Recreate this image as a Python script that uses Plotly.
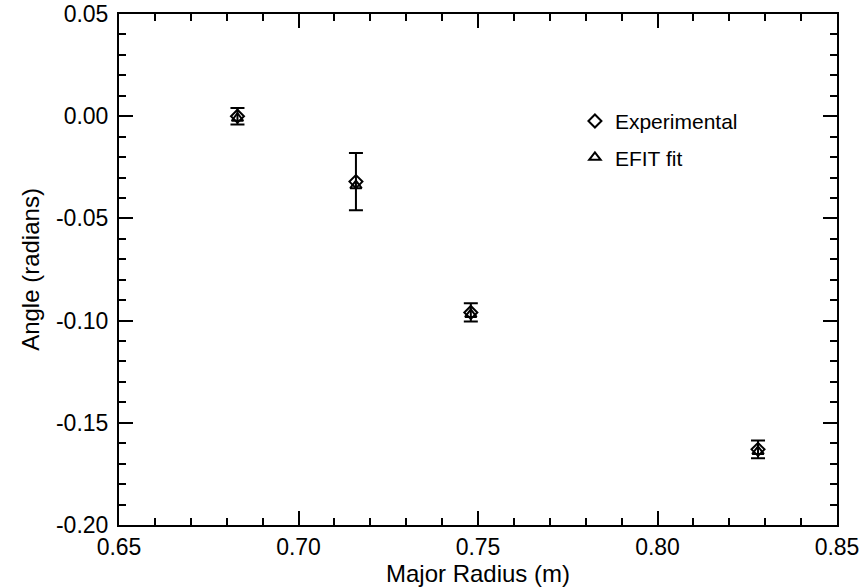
import plotly.graph_objects as go

radius = [0.683, 0.716, 0.748, 0.828]
angle_exp = [0.000, -0.032, -0.096, -0.163]
angle_err = [0.004, 0.014, 0.0045, 0.0043]
angle_efit = [-0.001, -0.034, -0.097, -0.164]

x_tick_vals = [0.65, 0.70, 0.75, 0.80, 0.85]
x_tick_text = ["0.65", "0.70", "0.75", "0.80", "0.85"]
y_tick_vals = [-0.20, -0.15, -0.10, -0.05, 0.00, 0.05]
y_tick_text = ["-0.20", "-0.15", "-0.10", "-0.05", "0.00", "0.05"]

FONT = "Liberation Sans, Arial, Helvetica, sans-serif"

fig = go.Figure()
fig.add_trace(go.Scatter(
    x=radius, y=angle_exp, mode="markers", name="Experimental",
    legendgroup="a",
    marker=dict(symbol="diamond-open", size=10, color="black", line=dict(width=2, color="black")),
    error_y=dict(type="data", array=angle_err, visible=True, color="black", thickness=2, width=7),
))
fig.add_trace(go.Scatter(
    x=radius, y=angle_efit, mode="markers", name="EFIT fit",
    legendgroup="b",
    marker=dict(symbol="triangle-up-open", size=10, color="black", line=dict(width=2, color="black")),
))

axis_common = dict(
    showgrid=False, zeroline=False, showline=True, linecolor="black", linewidth=2,
    mirror="ticks", ticks="inside", ticklen=14, tickwidth=2, tickcolor="black",
    tickfont=dict(family=FONT, size=23, color="black"),
    minor=dict(ticks="inside", ticklen=7, tickwidth=2, tickcolor="black", dtick=0.01),
    automargin=False, ticklabeloverflow="allow",
)

fig.update_xaxes(
    range=[0.65, 0.85], tickmode="array", tickvals=x_tick_vals, ticktext=x_tick_text,
    ticklabelstandoff=0,
    title=dict(text="Major Radius (m)", font=dict(family=FONT, size=24, color="black"), standoff=0),
    **axis_common,
)
fig.update_yaxes(
    range=[-0.20, 0.05], tickmode="array", tickvals=y_tick_vals, ticktext=y_tick_text,
    ticklabelstandoff=4,
    title=dict(text="Angle (radians)", font=dict(family=FONT, size=24, color="black"), standoff=10),
    **axis_common,
)

fig.update_layout(
    width=863, height=588,
    margin=dict(l=119, r=26, t=14, b=63),
    paper_bgcolor="white", plot_bgcolor="white",
    showlegend=True,
    legend=dict(
        x=0.635, y=0.83, xanchor="left", yanchor="top",
        bgcolor="rgba(0,0,0,0)", borderwidth=0,
        font=dict(family=FONT, size=21, color="black"),
        traceorder="grouped", tracegroupgap=6, itemwidth=30,
    ),
)

fig.write_html("out.html")
